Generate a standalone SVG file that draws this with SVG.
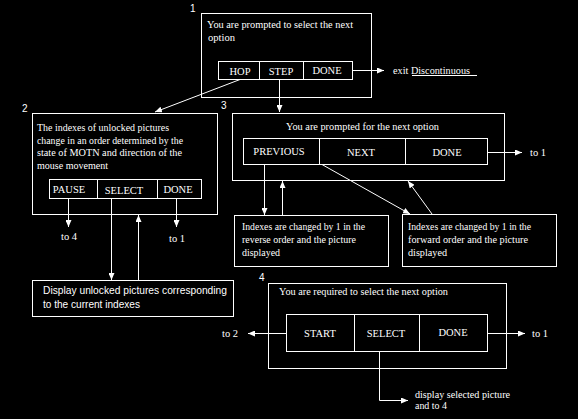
<svg xmlns="http://www.w3.org/2000/svg" width="578" height="419" viewBox="0 0 578 419">
<style>
.bg{fill:#000}
.box{fill:none;stroke:#fff;stroke-width:1}
.ln{fill:none;stroke:#fff;stroke-width:1}
.t{font-family:"Liberation Serif","Times New Roman",serif;font-size:10.5px;fill:#fff}
.b{font-family:"Liberation Serif","Times New Roman",serif;font-size:10.5px;fill:#fff;text-anchor:middle}
.s{font-family:"Liberation Sans",Arial,sans-serif;font-size:10.2px;fill:#fff}
.n{font-family:"Liberation Sans",Arial,sans-serif;font-size:10px;fill:#fff}
</style>
<defs>
<marker id="ah" viewBox="0 0 7 6" refX="7" refY="3" markerWidth="7" markerHeight="6" markerUnits="userSpaceOnUse" orient="auto">
<path d="M0,0 L7,3 L0,6 z" fill="#fff"/>
</marker>
</defs>
<rect class="bg" x="0" y="0" width="578" height="419"/>

<g id="node1">
<text class="n" x="190" y="12">1</text>
<rect class="box" x="201.5" y="13.5" width="170" height="84"/>
<text class="t" x="207" y="28" textLength="146" lengthAdjust="spacingAndGlyphs">You are prompted to select the next</text>
<text class="t" x="208" y="41" textLength="27" lengthAdjust="spacingAndGlyphs">option</text>
<rect class="box" x="218.5" y="61.5" width="134" height="18"/>
<line class="ln" x1="259.5" y1="61.5" x2="259.5" y2="79.5"/>
<line class="ln" x1="303.5" y1="61.5" x2="303.5" y2="79.5"/>
<text class="b" x="240" y="75">HOP</text>
<text class="b" x="281" y="75">STEP</text>
<text class="b" x="327" y="74">DONE</text>
</g>

<g id="node2">
<text class="n" x="22" y="112">2</text>
<rect class="box" x="32.5" y="113.5" width="185" height="101"/>
<text class="t" x="37" y="131" textLength="132" lengthAdjust="spacingAndGlyphs">The indexes of unlocked pictures</text>
<text class="t" x="37" y="143.5" textLength="146" lengthAdjust="spacingAndGlyphs">change in an order determined by the</text>
<text class="t" x="37" y="156" textLength="145" lengthAdjust="spacingAndGlyphs">state of MOTN and direction of the</text>
<text class="t" x="37" y="168.5" textLength="71" lengthAdjust="spacingAndGlyphs">mouse movement</text>
<rect class="box" x="49.5" y="179.5" width="152" height="19"/>
<line class="ln" x1="97.5" y1="179.5" x2="97.5" y2="198.5"/>
<line class="ln" x1="157.5" y1="179.5" x2="157.5" y2="198.5"/>
<text class="b" x="69" y="193">PAUSE</text>
<text class="b" x="124" y="194">SELECT</text>
<text class="b" x="178" y="193">DONE</text>
</g>

<g id="node3">
<text class="n" x="221" y="109">3</text>
<rect class="box" x="232.5" y="113.5" width="272" height="67"/>
<text class="t" x="286" y="130" textLength="153" lengthAdjust="spacingAndGlyphs">You are prompted for the next option</text>
<rect class="box" x="243.5" y="138.5" width="244" height="26"/>
<line class="ln" x1="319.5" y1="138.5" x2="319.5" y2="164.5"/>
<line class="ln" x1="405.5" y1="138.5" x2="405.5" y2="164.5"/>
<text class="b" x="279" y="155">PREVIOUS</text>
<text class="b" x="361" y="156">NEXT</text>
<text class="b" x="447" y="156">DONE</text>
</g>

<g id="node3a">
<rect class="box" x="234.5" y="215.5" width="154" height="51"/>
<text class="t" x="242" y="230" textLength="123" lengthAdjust="spacingAndGlyphs">Indexes are changed by 1 in the</text>
<text class="t" x="242" y="243" textLength="114" lengthAdjust="spacingAndGlyphs">reverse order and the picture</text>
<text class="t" x="242" y="256" textLength="38" lengthAdjust="spacingAndGlyphs">displayed</text>
</g>

<g id="node3b">
<rect class="box" x="402.5" y="214.5" width="154" height="52"/>
<text class="t" x="408" y="230" textLength="123" lengthAdjust="spacingAndGlyphs">Indexes are changed by 1 in the</text>
<text class="t" x="408" y="243" textLength="120" lengthAdjust="spacingAndGlyphs">forward order and the picture</text>
<text class="t" x="408" y="256" textLength="39" lengthAdjust="spacingAndGlyphs">displayed</text>
</g>

<g id="node2a">
<rect class="box" x="32.5" y="280.5" width="201" height="36"/>
<text class="s" x="43" y="294" textLength="184" lengthAdjust="spacingAndGlyphs">Display unlocked pictures corresponding</text>
<text class="s" x="43" y="308" textLength="97" lengthAdjust="spacingAndGlyphs">to the current indexes</text>
</g>

<g id="node4">
<text class="n" x="259" y="281">4</text>
<rect class="box" x="268.5" y="283.5" width="238" height="85"/>
<text class="t" x="279" y="295" textLength="169" lengthAdjust="spacingAndGlyphs">You are required to select the next option</text>
<rect class="box" x="286.5" y="314.5" width="201" height="37"/>
<line class="ln" x1="354.5" y1="314.5" x2="354.5" y2="351.5"/>
<line class="ln" x1="419.5" y1="314.5" x2="419.5" y2="351.5"/>
<text class="b" x="320" y="337">START</text>
<text class="b" x="386" y="337">SELECT</text>
<text class="b" x="453" y="336">DONE</text>
</g>

<g id="labels">
<text class="t" x="393" y="74" textLength="77" lengthAdjust="spacingAndGlyphs">exit Discontinuous</text>
<line class="ln" x1="412" y1="75.5" x2="477" y2="75.5"/>
<text class="t" x="61" y="240">to 4</text>
<text class="t" x="169" y="242">to 1</text>
<text class="t" x="530" y="156">to 1</text>
<text class="t" x="222" y="337">to 2</text>
<text class="t" x="532" y="337">to 1</text>
<text class="t" x="415" y="398" textLength="95" lengthAdjust="spacingAndGlyphs">display selected picture</text>
<text class="t" x="415" y="409" textLength="32" lengthAdjust="spacingAndGlyphs">and to 4</text>
</g>

<g id="connectors">
<line class="ln" x1="352.5" y1="70.5" x2="384" y2="70.5" marker-end="url(#ah)"/>
<line class="ln" x1="279.5" y1="79.5" x2="279.5" y2="112" marker-end="url(#ah)"/>
<line class="ln" x1="240" y1="79.5" x2="155" y2="112" marker-end="url(#ah)"/>
<line class="ln" x1="68.5" y1="198.5" x2="68.5" y2="227" marker-end="url(#ah)"/>
<line class="ln" x1="176.5" y1="198.5" x2="176.5" y2="227" marker-end="url(#ah)"/>
<line class="ln" x1="111.5" y1="198.5" x2="111.5" y2="280" marker-end="url(#ah)"/>
<line class="ln" x1="138.5" y1="280.5" x2="138.5" y2="215" marker-end="url(#ah)"/>
<line class="ln" x1="487.5" y1="152.5" x2="522" y2="152.5" marker-end="url(#ah)"/>
<line class="ln" x1="264.5" y1="164.5" x2="264.5" y2="215" marker-end="url(#ah)"/>
<line class="ln" x1="282.5" y1="215.5" x2="282.5" y2="181" marker-end="url(#ah)"/>
<line class="ln" x1="322" y1="164.5" x2="410" y2="214" marker-end="url(#ah)"/>
<line class="ln" x1="432" y1="214" x2="408" y2="181" marker-end="url(#ah)"/>
<line class="ln" x1="286.5" y1="333.5" x2="248" y2="333.5" marker-end="url(#ah)"/>
<line class="ln" x1="487.5" y1="333.5" x2="525" y2="333.5" marker-end="url(#ah)"/>
<polyline class="ln" points="379.5,351.5 379.5,400.5 408,400.5" marker-end="url(#ah)"/>
</g>
</svg>
